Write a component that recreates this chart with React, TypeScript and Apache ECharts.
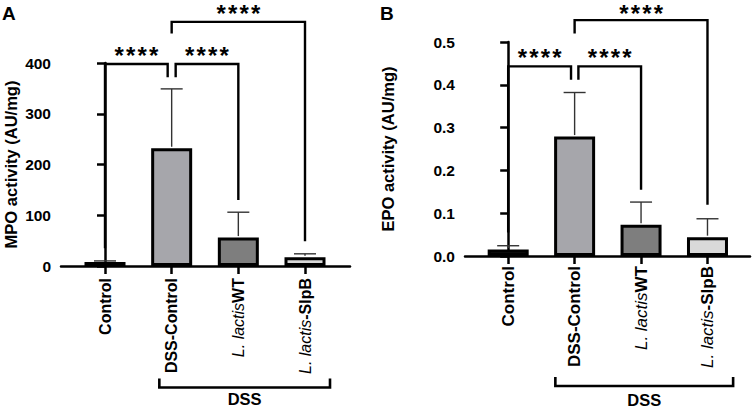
import React, { useEffect, useRef } from "react";
import * as echarts from "echarts";

const FONT = "'Liberation Sans', Arial, Helvetica, sans-serif";

const categories = ["Control", "DSS-Control", "L. lactisWT", "L. lactis-SlpB"];
const categoryPositions = [0, 1, 2, 3];

// Panel A: MPO activity (AU/mg)
const mpoMean = [8, 232, 56, 17];
const mpoUpper = [10, 349, 106, 24];
// Panel B: EPO activity (AU/mg)
const epoMean = [0.015, 0.279, 0.073, 0.044];
const epoUpper = [0.024, 0.382, 0.126, 0.087];

const barColors = ["#141414", "#a6a6ab", "#7e7e7e", "#d9d9d9"];

// significance brackets: [xStart, xEnd, yTop, yStartBottom, yEndBottom]
const mpoBrackets = [
  [0, 0.94, 398, 35, 372],
  [1.06, 2, 398, 372, 130],
  [1, 3, 481, 458, 49],
];
const epoBrackets = [
  [0, 0.946, 0.443, 0.055, 0.412],
  [1.057, 2, 0.443, 0.412, 0.155],
  [1, 3, 0.551, 0.52, 0.12],
];
const sigLabels = ["****", "****", "****"];

// group bracket under the axis labels: [xStart, xEnd]
const mpoGroup = [[0.815, 3.375]];
const epoGroup = [[0.71, 3.386]];
const groupLabel = "DSS";

function labelFormatter(i: number) {
  const name = categories[Math.round(i)];
  if (name === undefined) return "";
  if (name.startsWith("L. lactis")) {
    return "{i|L. lactis}{b|" + name.slice("L. lactis".length) + "}";
  }
  return "{b|" + name + "}";
}

function makeX(gridIndex: number, min: number, max: number, margin: number, fs: number) {
  return {
    type: "value",
    gridIndex,
    min,
    max,
    splitLine: { show: false },
    axisLine: { show: true, lineStyle: { color: "#000", width: 2.5 } },
    axisTick: {
      show: true,
      customValues: categoryPositions,
      length: 8,
      lineStyle: { color: "#000", width: 2.5 },
    },
    axisLabel: {
      customValues: categoryPositions,
      rotate: 90,
      margin,
      formatter: (v: number) => labelFormatter(v),
      rich: {
        b: { fontSize: fs, fontWeight: "bold", color: "#000", fontFamily: FONT },
        i: { fontSize: fs, fontStyle: "italic", color: "#000", fontFamily: FONT },
      },
    },
  };
}

function makeY(
  gridIndex: number,
  max: number,
  interval: number,
  name: string,
  nameGap: number,
  fmt: (v: number) => string
) {
  return {
    type: "value",
    gridIndex,
    min: 0,
    max,
    interval,
    name,
    nameLocation: "middle",
    nameGap,
    nameTextStyle: { fontSize: 16.5, fontWeight: "bold", color: "#000", fontFamily: FONT },
    splitLine: { show: false },
    axisLine: { show: true, lineStyle: { color: "#000", width: 2.5 } },
    axisTick: { show: true, length: 8, lineStyle: { color: "#000", width: 2.5 } },
    axisLabel: {
      margin: 10,
      fontSize: 15.5,
      fontWeight: "bold",
      color: "#000",
      fontFamily: FONT,
      formatter: fmt,
    },
  };
}

function barSeries(idx: number, means: number[]) {
  return {
    type: "bar",
    xAxisIndex: idx,
    yAxisIndex: idx,
    barWidth: 41,
    data: means.map((v, i) => ({
      value: [categoryPositions[i], v],
      itemStyle: { color: barColors[i], borderColor: "#000", borderWidth: 3 },
    })),
    z: 2,
  };
}

function errorSeries(idx: number, means: number[], upper: number[]) {
  return {
    type: "custom",
    xAxisIndex: idx,
    yAxisIndex: idx,
    clip: false,
    z: 3,
    encode: { x: 0, y: [1, 2] },
    data: means.map((m, i) => [categoryPositions[i], m, upper[i]]),
    renderItem: (params: any, api: any) => {
      const x = api.value(0);
      const p0 = api.coord([x, api.value(1)]);
      const p1 = api.coord([x, api.value(2)]);
      const style = { stroke: "#333", lineWidth: 1.4 };
      return {
        type: "group",
        children: [
          { type: "line", shape: { x1: p0[0], y1: p0[1] - 1.5, x2: p1[0], y2: p1[1] }, style },
          { type: "line", shape: { x1: p1[0] - 11, y1: p1[1], x2: p1[0] + 11, y2: p1[1] }, style },
        ],
      };
    },
  };
}

function bracketSeries(idx: number, brackets: number[][]) {
  return {
    type: "custom",
    xAxisIndex: idx,
    yAxisIndex: idx,
    clip: false,
    z: 4,
    encode: { x: [0, 1], y: [2, 3, 4] },
    data: brackets,
    renderItem: (params: any, api: any) => {
      const x1 = api.value(0);
      const x2 = api.value(1);
      const yt = api.value(2);
      const a = api.coord([x1, api.value(3)]);
      const b = api.coord([x1, yt]);
      const c = api.coord([x2, yt]);
      const d = api.coord([x2, api.value(4)]);
      const label = sigLabels[params.dataIndex] || "";
      const mid = (b[0] + c[0]) / 2;
      const n = label.length;
      const children: any[] = [
        {
          type: "polyline",
          shape: { points: [a, b, c, d] },
          style: { stroke: "#000", lineWidth: 2.4, fill: null },
        },
      ];
      const ty = Math.max(b[1] - 9, 13);
      for (let k = 0; k < n; k++) {
        children.push({
          type: "text",
          x: mid + (k - (n - 1) / 2) * 11.5,
          y: ty,
          style: {
            text: label[k],
            fill: "#000",
            fontSize: 24,
            fontWeight: "bold",
            fontFamily: FONT,
            align: "center",
            verticalAlign: "middle",
          },
        });
      }
      return { type: "group", children };
    },
  };
}

function groupSeries(idx: number, groups: number[][], offset: number, textOffset: number) {
  return {
    type: "custom",
    xAxisIndex: idx,
    yAxisIndex: idx,
    clip: false,
    z: 4,
    encode: { x: [0, 1] },
    data: groups,
    renderItem: (params: any, api: any) => {
      const p1 = api.coord([api.value(0), 0]);
      const p2 = api.coord([api.value(1), 0]);
      const y = p1[1] + offset;
      return {
        type: "group",
        children: [
          {
            type: "polyline",
            shape: { points: [[p1[0], y - 9], [p1[0], y], [p2[0], y], [p2[0], y - 9]] },
            style: { stroke: "#000", lineWidth: 2.6, fill: null },
          },
          {
            type: "text",
            x: (p1[0] + p2[0]) / 2,
            y: p1[1] + textOffset,
            style: {
              text: groupLabel,
              fill: "#000",
              fontSize: 16.5,
              fontWeight: "bold",
              fontFamily: FONT,
              align: "center",
              verticalAlign: "middle",
            },
          },
        ],
      };
    },
  };
}

export default function App() {
  const ref = useRef<HTMLDivElement>(null);
  useEffect(() => {
    if (!ref.current) return;
    const chart = echarts.init(ref.current, undefined, { renderer: "svg" });
    chart.setOption({
      animation: false,
      backgroundColor: "#fff",
      textStyle: { fontFamily: FONT },
      title: [
        {
          text: "A",
          left: 2,
          top: 4,
          padding: 0,
          textStyle: { fontSize: 19, fontWeight: "bold", color: "#000", fontFamily: FONT },
        },
        {
          text: "B",
          left: 380,
          top: 4,
          padding: 0,
          textStyle: { fontSize: 19, fontWeight: "bold", color: "#000", fontFamily: FONT },
        },
      ],
      grid: [
        { left: 61, top: 63, width: 289, height: 203 },
        { left: 465, top: 42, width: 285, height: 214 },
      ],
      xAxis: [makeX(0, -0.66, 3.675, 12, 16), makeX(1, -0.65, 3.64, 10, 17)],
      yAxis: [
        makeY(0, 400, 100, "MPO activity (AU/mg)", 42, (v: number) => String(v)),
        makeY(1, 0.5, 0.1, "EPO activity (AU/mg)", 69, (v: number) => v.toFixed(1)),
      ],
      series: [
        barSeries(0, mpoMean),
        errorSeries(0, mpoMean, mpoUpper),
        bracketSeries(0, mpoBrackets),
        groupSeries(0, mpoGroup, 121.5, 133),
        barSeries(1, epoMean),
        errorSeries(1, epoMean, epoUpper),
        bracketSeries(1, epoBrackets),
        groupSeries(1, epoGroup, 130, 143.5),
      ],
    });
    return () => chart.dispose();
  }, []);
  return (
    <div
      ref={ref}
      style={{ position: "absolute", left: 0, top: 0, width: 754, height: 407, background: "#fff" }}
    />
  );
}
